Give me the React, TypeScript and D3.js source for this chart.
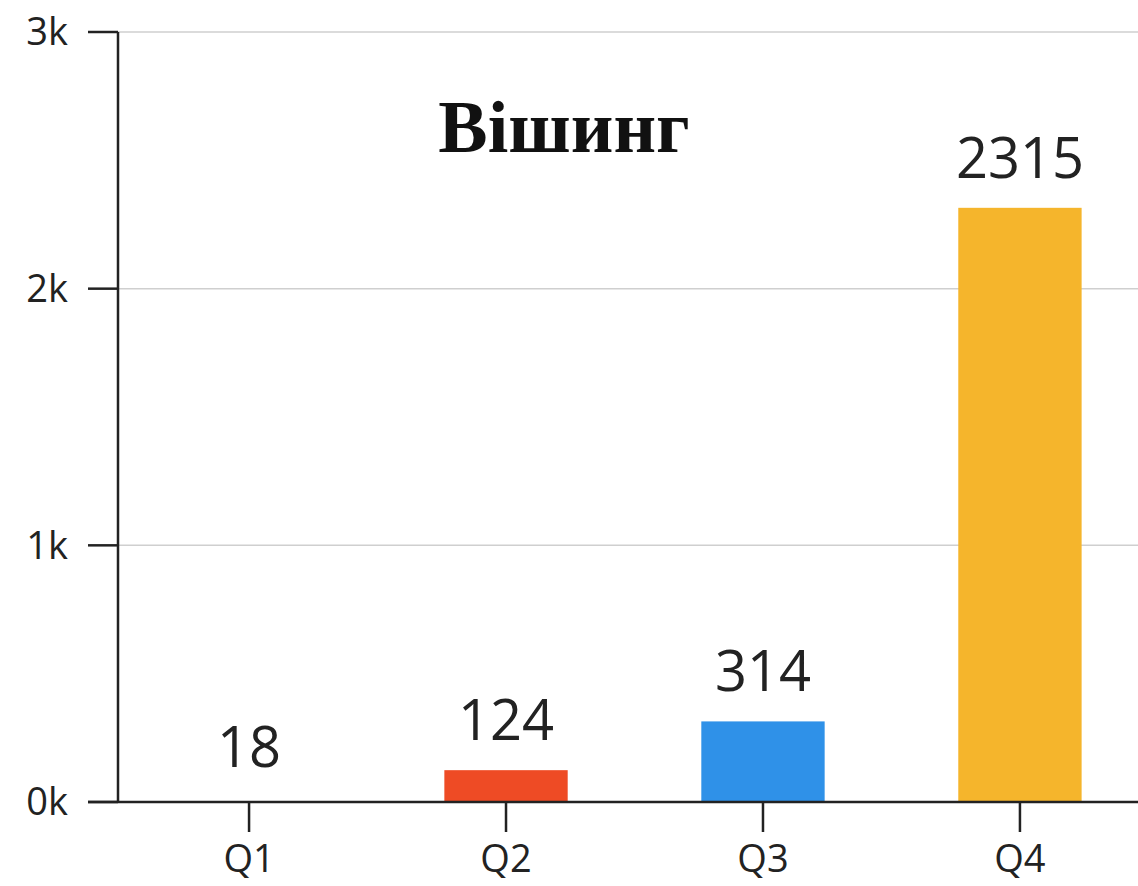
import React from 'react'
import * as d3 from 'd3'

const quarters = ['Q1', 'Q2', 'Q3', 'Q4']
const values = [18, 124, 314, 2315]
const barColors = ['#ffffff', '#ee4b25', '#2f91e8', '#f5b52c']
const yTicks = [0, 1000, 2000, 3000]
const title = 'Вішинг'

const App = () => {
  const width = 1138
  const height = 886
  const left = 118
  const top = 32
  const bottom = 802

  // scales
  const x = d3.scaleBand<string>()
    .domain(quarters)
    .range([left, 1151])
    .paddingInner(0.52)
    .paddingOuter(0.27)
  const y = d3.scaleLinear().domain([0, 3000]).range([bottom, top])

  const font = '"Open Sans", "Noto Sans", sans-serif'
  const ink = '#222'

  return (
    <svg
      width={width}
      height={height}
      style={{ position: 'absolute', left: 0, top: 0, background: '#fff' }}
    >
      {/* gridlines */}
      {yTicks.filter(t => t > 0).map(t => (
        <line key={'g' + t} x1={left} x2={width} y1={y(t)} y2={y(t)} stroke="#cfcfcf" strokeWidth={1.5} />
      ))}

      {/* bars */}
      {quarters.map((q, i) => (
        <rect
          key={q}
          x={x(q)}
          y={y(values[i])}
          width={x.bandwidth()}
          height={bottom - y(values[i])}
          fill={barColors[i]}
        />
      ))}

      {/* value labels */}
      {quarters.map((q, i) => (
        <text
          key={'v' + q}
          x={(x(q) ?? 0) + x.bandwidth() / 2}
          y={y(values[i]) - 30}
          textAnchor="middle"
          fontFamily={font}
          fontSize={56}
          fill={ink}
        >
          {values[i]}
        </text>
      ))}

      {/* y axis */}
      <line x1={left} x2={left} y1={top} y2={bottom} stroke={ink} strokeWidth={2.5} />
      {yTicks.map(t => (
        <g key={'y' + t}>
          <line x1={left - 30} x2={left} y1={y(t)} y2={y(t)} stroke={ink} strokeWidth={2.5} />
          <text
            x={left - 50}
            y={y(t)}
            dy="0.35em"
            textAnchor="end"
            fontFamily={font}
            fontSize={38}
            fill={ink}
          >
            {d3.format('d')(t / 1000) + 'k'}
          </text>
        </g>
      ))}

      {/* x axis */}
      <line x1={left - 30} x2={width} y1={bottom} y2={bottom} stroke={ink} strokeWidth={2.5} />
      {quarters.map(q => {
        const cx = (x(q) ?? 0) + x.bandwidth() / 2
        return (
          <g key={'x' + q}>
            <line x1={cx} x2={cx} y1={bottom} y2={bottom + 30} stroke={ink} strokeWidth={2.5} />
            <text x={cx} y={872} textAnchor="middle" fontFamily={font} fontSize={38} fill={ink}>
              {q}
            </text>
          </g>
        )
      })}

      {/* title */}
      <text
        x={564}
        y={152}
        textAnchor="middle"
        fontFamily='"Liberation Serif", "DejaVu Serif", serif'
        fontWeight="bold"
        fontSize={74}
        fill="#111"
      >
        {title}
      </text>
    </svg>
  )
}

export default App
